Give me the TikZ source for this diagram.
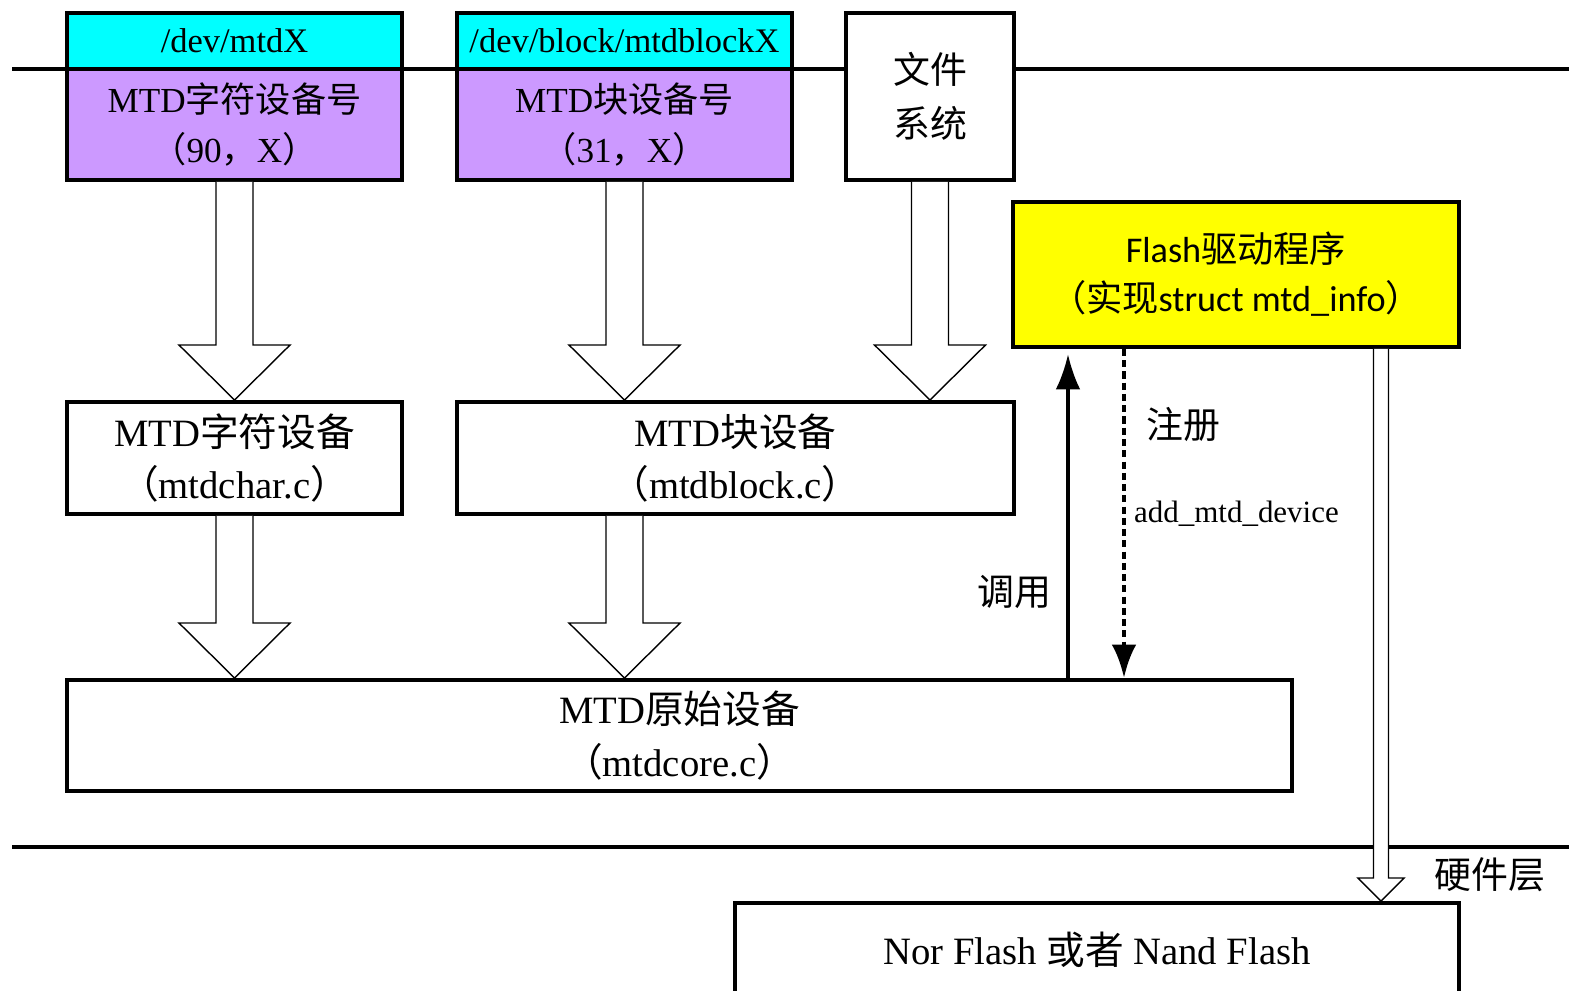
\documentclass[tikz,border=0pt]{standalone}
\usepackage{fontspec}
\setmainfont{Liberation Serif}
\newfontfamily\cjk{Noto Sans CJK SC}
\newfontfamily\flashfont{Carlito}
\usetikzlibrary{arrows.meta,calc}
\newcommand\zh[1]{{\cjk #1}}
\definecolor{devcyan}{HTML}{00FFFF}
\definecolor{numpurple}{HTML}{CC99FF}
\definecolor{drvyellow}{HTML}{FFFF00}
\tikzset{
    box/.style={draw,line width=1.1pt,inner sep=0pt,align=center,
        font=\fontsize{10}{14}\selectfont},
    hollow/.style={draw,line width=0.4pt,fill=white},
    lbl/.style={inner sep=1pt,font=\fontsize{10.5}{13}\selectfont},
}
\begin{document}
\begin{tikzpicture}[x=0.01cm,y=-0.01cm]
        \useasboundingbox (0,0) rectangle (1569,991);
        %% Layer lines
        \draw[line width=1.1pt] (12,69) -- (1569,69);
        \draw[line width=1.1pt] (12,847) -- (1569,847);
        %% Device files and numbers
        \node[box,fill=devcyan,minimum width=3.35cm,minimum height=0.56cm,font=\fontsize{9.8}{12}\selectfont] (chrfile) at (234.5,41) {/dev/mtdX};
        \node[box,fill=numpurple,minimum width=3.35cm,minimum height=1.11cm] (chrnum) at (234.5,124.5)
            {MTD\zh{字符设备号}\\\zh{（}90\zh{，}X\zh{）}};
        \node[box,fill=devcyan,minimum width=3.35cm,minimum height=0.56cm,font=\fontsize{9.8}{12}\selectfont] (blkfile) at (624.5,41) {/dev/block/mtdblockX};
        \node[box,fill=numpurple,minimum width=3.35cm,minimum height=1.11cm] (blknum) at (624.5,124.5)
            {MTD\zh{块设备号}\\\zh{（}31\zh{，}X\zh{）}};
        \node[box,fill=white,minimum width=1.68cm,minimum height=1.67cm,font=\fontsize{10.5}{15.5}\selectfont] (fs) at (930,96.5)
            {\zh{文件}\\\zh{系统}};
        %% Driver
        \node[box,fill=drvyellow,minimum width=4.46cm,minimum height=1.45cm,font=\fontsize{10.3}{14}\selectfont] (flash) at (1236,274.5)
            {{\flashfont Flash}\zh{驱动程序}\\\zh{（实现}{\flashfont struct mtd\_info}\zh{）}};
        %% MTD layers
        \node[box,minimum width=3.35cm,minimum height=1.12cm,font=\fontsize{11}{15}\selectfont] (chrdev) at (234.5,458)
            {MTD\zh{字符设备}\\\zh{（}mtdchar.c\zh{）}};
        \node[box,minimum width=5.57cm,minimum height=1.12cm,font=\fontsize{11}{15}\selectfont] (blkdev) at (735.5,458)
            {MTD\zh{块设备}\\\zh{（}mtdblock.c\zh{）}};
        \node[box,minimum width=12.25cm,minimum height=1.11cm,font=\fontsize{11}{15}\selectfont] (raw) at (679.5,735.5)
            {MTD\zh{原始设备}\\\zh{（}mtdcore.c\zh{）}};
        %% Hardware
        \node[box,minimum width=7.24cm,minimum height=0.94cm,font=\fontsize{11}{14}\selectfont] (hw) at (1097,950)
            {Nor Flash \zh{或者} Nand Flash};
        \coordinate (drvcol) at (1381,0);
        %% Hollow arrows
        \foreach \a/\c/\b/\w/\h/\l in {chrnum/chrnum/chrdev/18.5/55.5/55, blknum/blknum/blkdev/18.5/55.5/55,
                fs/fs/blkdev/18.5/55.5/55, chrdev/chrnum/raw/18.5/55.5/55, blkdev/blknum/raw/18.5/55.5/55,
                flash/drvcol/hw/7.5/23/23}{
            \path (\c |- \a.south) coordinate (s) (\c |- \b.north) coordinate (t);
            \draw[hollow] ($(s)+(-\w,0)$) -- ($(t)+(-\w,-\l)$) -- ($(t)+(-\h,-\l)$) -- (t)
                -- ($(t)+(\h,-\l)$) -- ($(t)+(\w,-\l)$) -- ($(s)+(\w,0)$);
        }
        %% Call and register
        \coordinate (callcol) at (1068,0);
        \coordinate (regcol) at (1124,0);
        \draw[line width=0.9pt,-{Latex[length=10pt,width=7pt]},shorten >=1.5pt] (callcol |- raw.north) -- (callcol |- flash.south);
        \draw[line width=1.4pt,dash pattern=on 2pt off 1.2pt,-{Latex[length=9.5pt,width=7pt]}] (regcol |- flash.south) -- (regcol |- raw.north);
        \node[lbl] (reglbl) at (1183,425) {\zh{注册}};
        \node[lbl,anchor=west,font=\fontsize{8.8}{11}\selectfont] (regfn) at (1130,514) {add\_mtd\_device};
        \node[lbl] (calllbl) at (1014,592) {\zh{调用}};
        \node[lbl] (hwlbl) at (1490,875) {\zh{硬件层}};
    \end{tikzpicture}
\end{document}
